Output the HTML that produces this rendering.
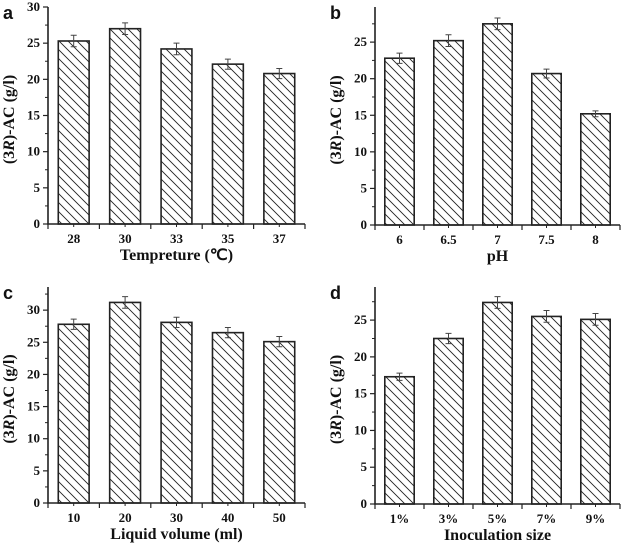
<!DOCTYPE html>
<html><head><meta charset="utf-8"><style>
html,body{margin:0;padding:0;background:#fff;}
svg{display:block;}
text{font-family:"Liberation Serif",serif;font-weight:bold;fill:#111;}
.pl{font-family:"Liberation Sans",sans-serif;font-size:18px;}
</style></head><body>
<svg id="chart" width="635" height="549" viewBox="0 0 635 549" xmlns="http://www.w3.org/2000/svg">
<defs>
<pattern id="hatch" patternUnits="userSpaceOnUse" width="9" height="9">
<path d="M-1,-1 L10,10 M-1,8 L1,10 M8,-1 L10,1" stroke="#222" stroke-width="0.9"/>
</pattern>
</defs>
</svg>
<script>
const catsA=["28","30","33","35","37"];
const valsA=[25.3,27.0,24.2,22.1,20.8];
const errsA=[0.8,0.8,0.8,0.7,0.7];
const ticksA=[0,5,10,15,20,25,30];
const catsB=["6","6.5","7","7.5","8"];
const valsB=[22.8,25.2,27.5,20.7,15.2];
const errsB=[0.7,0.8,0.8,0.6,0.4];
const ticksB=[0,5,10,15,20,25];
const catsC=["10","20","30","40","50"];
const valsC=[27.8,31.2,28.1,26.5,25.1];
const errsC=[0.8,0.9,0.8,0.8,0.8];
const ticksC=[0,5,10,15,20,25,30];
const catsD=["1%","3%","5%","7%","9%"];
const valsD=[17.3,22.5,27.4,25.5,25.1];
const errsD=[0.5,0.7,0.8,0.8,0.8];
const ticksD=[0,5,10,15,20,25];

const NS="http://www.w3.org/2000/svg";
const svg=document.getElementById('chart');
function mk(tag,attrs,parent){const e=document.createElementNS(NS,tag);for(const k in attrs)e.setAttribute(k,attrs[k]);(parent||svg).appendChild(e);return e;}

function panel(p){
  const g=mk('g',{});
  
  
  const y=v=>p.y0-(v/p.ymax)*(p.y0-p.yTop);
  const n=p.cats.length, step=(p.x1-p.x0)/n;
  const xc=i=>p.x0+step*(i+0.5);
  p.vals.forEach((v,i)=>{
    const w=step*0.6;
    const r=mk('rect',{x:xc(i)-w/2,y:y(v),width:w,height:p.y0-y(v),fill:'url(#hatch)',stroke:'#222','stroke-width':1.6},g);
    
    
    const e=p.errs[i];
    const eb=mk('path',{d:`M${xc(i)},${y(v+e)}V${y(v-e)}M${xc(i)-3},${y(v+e)}H${xc(i)+3}M${xc(i)-3},${y(v-e)}H${xc(i)+3}`,stroke:'#444','stroke-width':1,fill:'none'},g);
    
    
    const t=mk('text',{x:xc(i),y:p.y0+19,'text-anchor':'middle','font-size':13},g);
    t.textContent=p.cats[i];
    
    
    mk('line',{x1:xc(i),x2:xc(i),y1:p.y0,y2:p.y0+3,stroke:'#222'},g);
  });
  for(let i=0;i<=n;i++){const x=p.x0+step*i;mk('line',{x1:x,x2:x,y1:p.y0,y2:p.y0+5,stroke:'#222','stroke-width':1.2},g);}
  p.ticks.forEach(t=>{
    mk('line',{x1:p.x0-5,x2:p.x0,y1:y(t),y2:y(t),stroke:'#222','stroke-width':1.2},g);
    const tx=mk('text',{x:p.x0-8,y:y(t)+4,'text-anchor':'end','font-size':13},g);
    tx.textContent=t;
    
    
  });
  for(let v=2.5;v<p.ymax;v+=5){mk('line',{x1:p.x0-3,x2:p.x0,y1:y(v),y2:y(v),stroke:'#222'},g);}
  mk('path',{d:`M${p.x0},${p.yTop}V${p.y0}H${p.x1}`,stroke:'#222','stroke-width':1.6,fill:'none'},g);
  const xt=mk('text',{x:(p.x0+p.x1)/2,y:p.y0+36,'text-anchor':'middle','font-size':16},g);
  xt.textContent=p.xtitle;
  
  
  const yt=mk('text',{transform:`translate(${p.x0-34},${(p.y0+p.yTop)/2+4}) rotate(-90)`,'text-anchor':'middle','font-size':16},g);
  yt.innerHTML='(3<tspan font-style="italic">R</tspan>)-AC (g/l)';
  
  
  const pl=mk('text',{x:p.x0-45,y:p.yTop+12,'class':'pl'},g);
  pl.textContent=p.letter;
  
  
}
panel({letter:'a',cats:catsA,vals:valsA,errs:errsA,ticks:ticksA,ymax:30,x0:48,x1:305,y0:224,yTop:7,xtitle:'Tempreture (\u2103)'});
panel({letter:'b',cats:catsB,vals:valsB,errs:errsB,ticks:ticksB,ymax:29.8,x0:375,x1:620,y0:225,yTop:7,xtitle:'pH'});
panel({letter:'c',cats:catsC,vals:valsC,errs:errsC,ticks:ticksC,ymax:33.6,x0:48,x1:305,y0:503,yTop:287,xtitle:'Liquid volume (ml)'});
panel({letter:'d',cats:catsD,vals:valsD,errs:errsD,ticks:ticksD,ymax:29.5,x0:375,x1:620,y0:504,yTop:287,xtitle:'Inoculation size'});
</script>
</body></html>
